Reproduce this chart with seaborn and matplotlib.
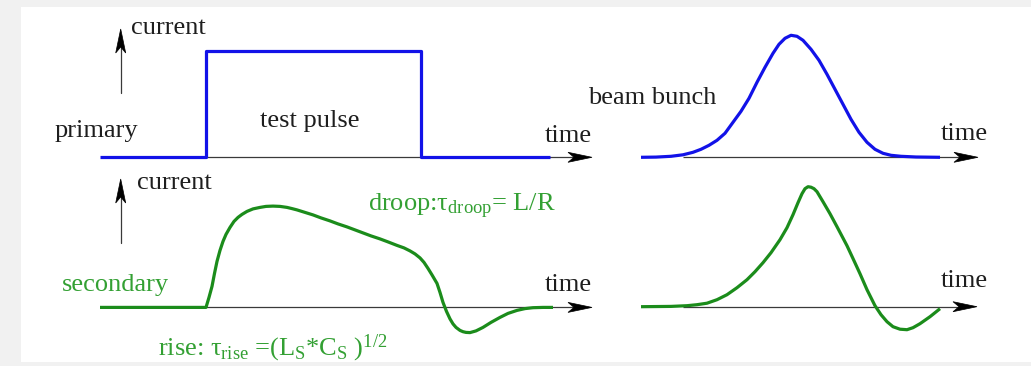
import matplotlib
matplotlib.use("Agg")
import matplotlib.pyplot as plt
import matplotlib.transforms as mtransforms
from matplotlib.patches import Rectangle, Polygon
import numpy as np
import pandas as pd
import seaborn as sns

# ---- waveforms: time (a.u.) and current (a.u., positive = up) ----
primary_time = [0, 106, 106, 321, 321, 450]
primary_current = [0, 0, 106, 106, 0, 0]

secondary_time = [0, 106, 109, 112, 114.5, 117, 120, 123, 126, 130, 134, 138,
                  142, 147, 153, 160, 166, 173, 180, 187, 192, 197, 205, 213,
                  221, 230, 238, 247, 255, 263, 271, 280, 288, 297, 304, 310,
                  315, 320, 324, 328, 332, 337, 340, 343, 346.5, 350, 353, 356,
                  360, 363, 366, 370, 376, 383, 391, 400, 408, 417, 425, 433,
                  443, 453]
secondary_current = [0, 0, 10, 21, 34, 46, 57, 66, 73, 80, 86, 90,
                     93, 96, 98.5, 100, 101, 101.3, 101, 100, 98.8, 97.5, 95, 92.5,
                     89.5, 86.5, 83.5, 80.5, 77.5, 74.5, 71.5, 68.5, 65.5, 62, 59.5, 56.5,
                     53.5, 49.5, 45, 39, 32.5, 24, 15, 5, -4, -11.5, -16.5, -20,
                     -23, -24.3, -25, -25.2, -23.5, -20, -15, -10, -6, -3, -1.2, -0.3,
                     0, 0]

bunch_time = [0, 15, 30, 42, 52, 60, 68, 76, 84, 92, 100, 108, 116, 124,
              132, 138, 144, 150, 156, 162, 170, 178, 186, 194, 202, 210,
              218, 226, 234, 242, 250, 260, 275, 299]
bunch_current = [0, 0.2, 1, 2.5, 5, 8, 12, 17, 24, 35, 46, 59, 75, 90,
                 104, 113, 119, 122, 121, 117, 108, 97, 83, 68, 53, 38,
                 25, 15, 8, 4, 2, 1, 0.3, 0]

response_time = [0, 30, 46, 56, 66, 76, 86, 96, 106, 114, 122, 130, 139,
                 146, 152, 157, 161, 164, 167, 170, 173, 176, 182, 189, 196,
                 206, 213, 219, 226, 234, 240, 246, 252, 259, 266, 272, 279,
                 289, 299]
response_current = [0, 0.3, 1, 2, 3.5, 7, 12, 19, 27, 35, 44, 54, 67,
                    79, 92, 104, 113, 118, 120, 119.5, 118, 115, 105, 93, 80,
                    61, 46, 33, 17, 1, -8, -15, -20, -22.5, -23, -21, -17,
                    -10, -2]

sns.set_theme(style="white")
plt.rcParams["font.family"] = ["Liberation Serif", "DejaVu Serif"]
plt.rcParams["mathtext.fontset"] = "custom"
plt.rcParams["mathtext.rm"] = "Liberation Serif"
plt.rcParams["mathtext.it"] = "Liberation Serif:italic"

W, H = 1031, 366
fig = plt.figure(figsize=(W / 100, H / 100), dpi=100)
fig.patch.set_facecolor("#f1f1f1")
ax = fig.add_axes([0, 0, 1, 1])
ax.set_xlim(0, W)
ax.set_ylim(H, 0)
ax.axis("off")
ax.add_patch(Rectangle((21, 7), W - 21, 355, facecolor="white",
                       edgecolor="none", zorder=0))

BLUE = "#1212e8"
GREEN_LINE = "#1b8c1b"
GREEN_TEXT = "#33a033"
INK = "#1e1e1e"
AXIS = "#3a3a3a"


def panel_transform(x0, y0):
    # time to the right, current upwards, origin at (x0, y0) on the page
    return mtransforms.Affine2D().scale(1, -1).translate(x0, y0) + ax.transData


def arrow_head(tx, ty, dx, dy, length=24, half=5, notch=6):
    d = np.array([dx, dy], float)
    d /= np.hypot(*d)
    n = np.array([-d[1], d[0]])
    tip = np.array([tx, ty])
    back = tip - d * length
    pts = [tip, back + n * half, back + d * notch, back - n * half]
    ax.add_patch(Polygon(pts, closed=True, facecolor="black",
                         edgecolor="black", lw=0.5, zorder=4))


def time_axis(x0, y0, t_start, t_tip):
    ax.plot([x0 + t_start, x0 + t_tip - 18], [y0, y0], color=AXIS,
            lw=0.9, zorder=1, solid_capstyle="butt")
    arrow_head(x0 + t_tip, y0, 1, 0)


def current_axis(x, y_bottom, y_tip):
    ax.plot([x, x], [y_bottom, y_tip + 18], color=AXIS, lw=0.9, zorder=1)
    arrow_head(x, y_tip, 0, -1)


def waveform(t, c, x0, y0, color):
    df = pd.DataFrame({"time": t, "current": c})
    sns.lineplot(data=df, x="time", y="current", ax=ax, sort=False,
                 estimator=None, color=color, lw=2.3, zorder=3,
                 transform=panel_transform(x0, y0),
                 solid_joinstyle="round", solid_capstyle="butt")


# panel origins on the page
TL = (100, 157.3)
BL = (100, 307.4)
TR = (641, 157.3)
BR = (641, 306.7)

time_axis(*TL, 105, 492)
time_axis(*BL, 106, 492)
time_axis(*TR, 42, 337)
time_axis(*BR, 42, 336)
current_axis(120.7, 93, 29)
current_axis(120.7, 243, 179)

waveform(primary_time, primary_current, *TL, BLUE)
waveform(secondary_time, secondary_current, *BL, GREEN_LINE)
waveform(bunch_time, bunch_current, *TR, BLUE)
waveform(response_time, response_current, *BR, GREEN_LINE)

ax.set_xlim(0, W)
ax.set_ylim(H, 0)
ax.set_xlabel("")
ax.set_ylabel("")

FS = 19
txt = dict(fontsize=FS, ha="left", va="baseline")
ax.text(131, 34, "current", color=INK, **txt)
ax.text(55, 137, "primary", color=INK, **txt)
ax.text(310, 126.5, "test pulse", color=INK, fontsize=FS, ha="center",
        va="baseline")
ax.text(545, 141.5, "time", color=INK, **txt)
ax.text(588, 103.5, "beam bunch", color=INK, **txt)
ax.text(941, 140.5, "time", color=INK, **txt)
ax.text(137, 189, "current", color=INK, **txt)
ax.text(62, 291.5, "secondary", color=GREEN_TEXT, **txt)
ax.text(545, 291, "time", color=INK, **txt)
ax.text(941, 287, "time", color=INK, **txt)
ax.text(368, 211.5, r"droop:$\mathregular{τ_{droop}}$= L/R",
        color=GREEN_TEXT, **txt)
ax.text(158, 355, r"rise: $\mathregular{τ_{rise}}$ =(L$\mathregular{_S}$*C"
        r"$\mathregular{_S}$ )$\mathregular{^{1/2}}$",
        color=GREEN_TEXT, **txt)

fig.savefig("out.png", dpi=100, facecolor=fig.get_facecolor())
